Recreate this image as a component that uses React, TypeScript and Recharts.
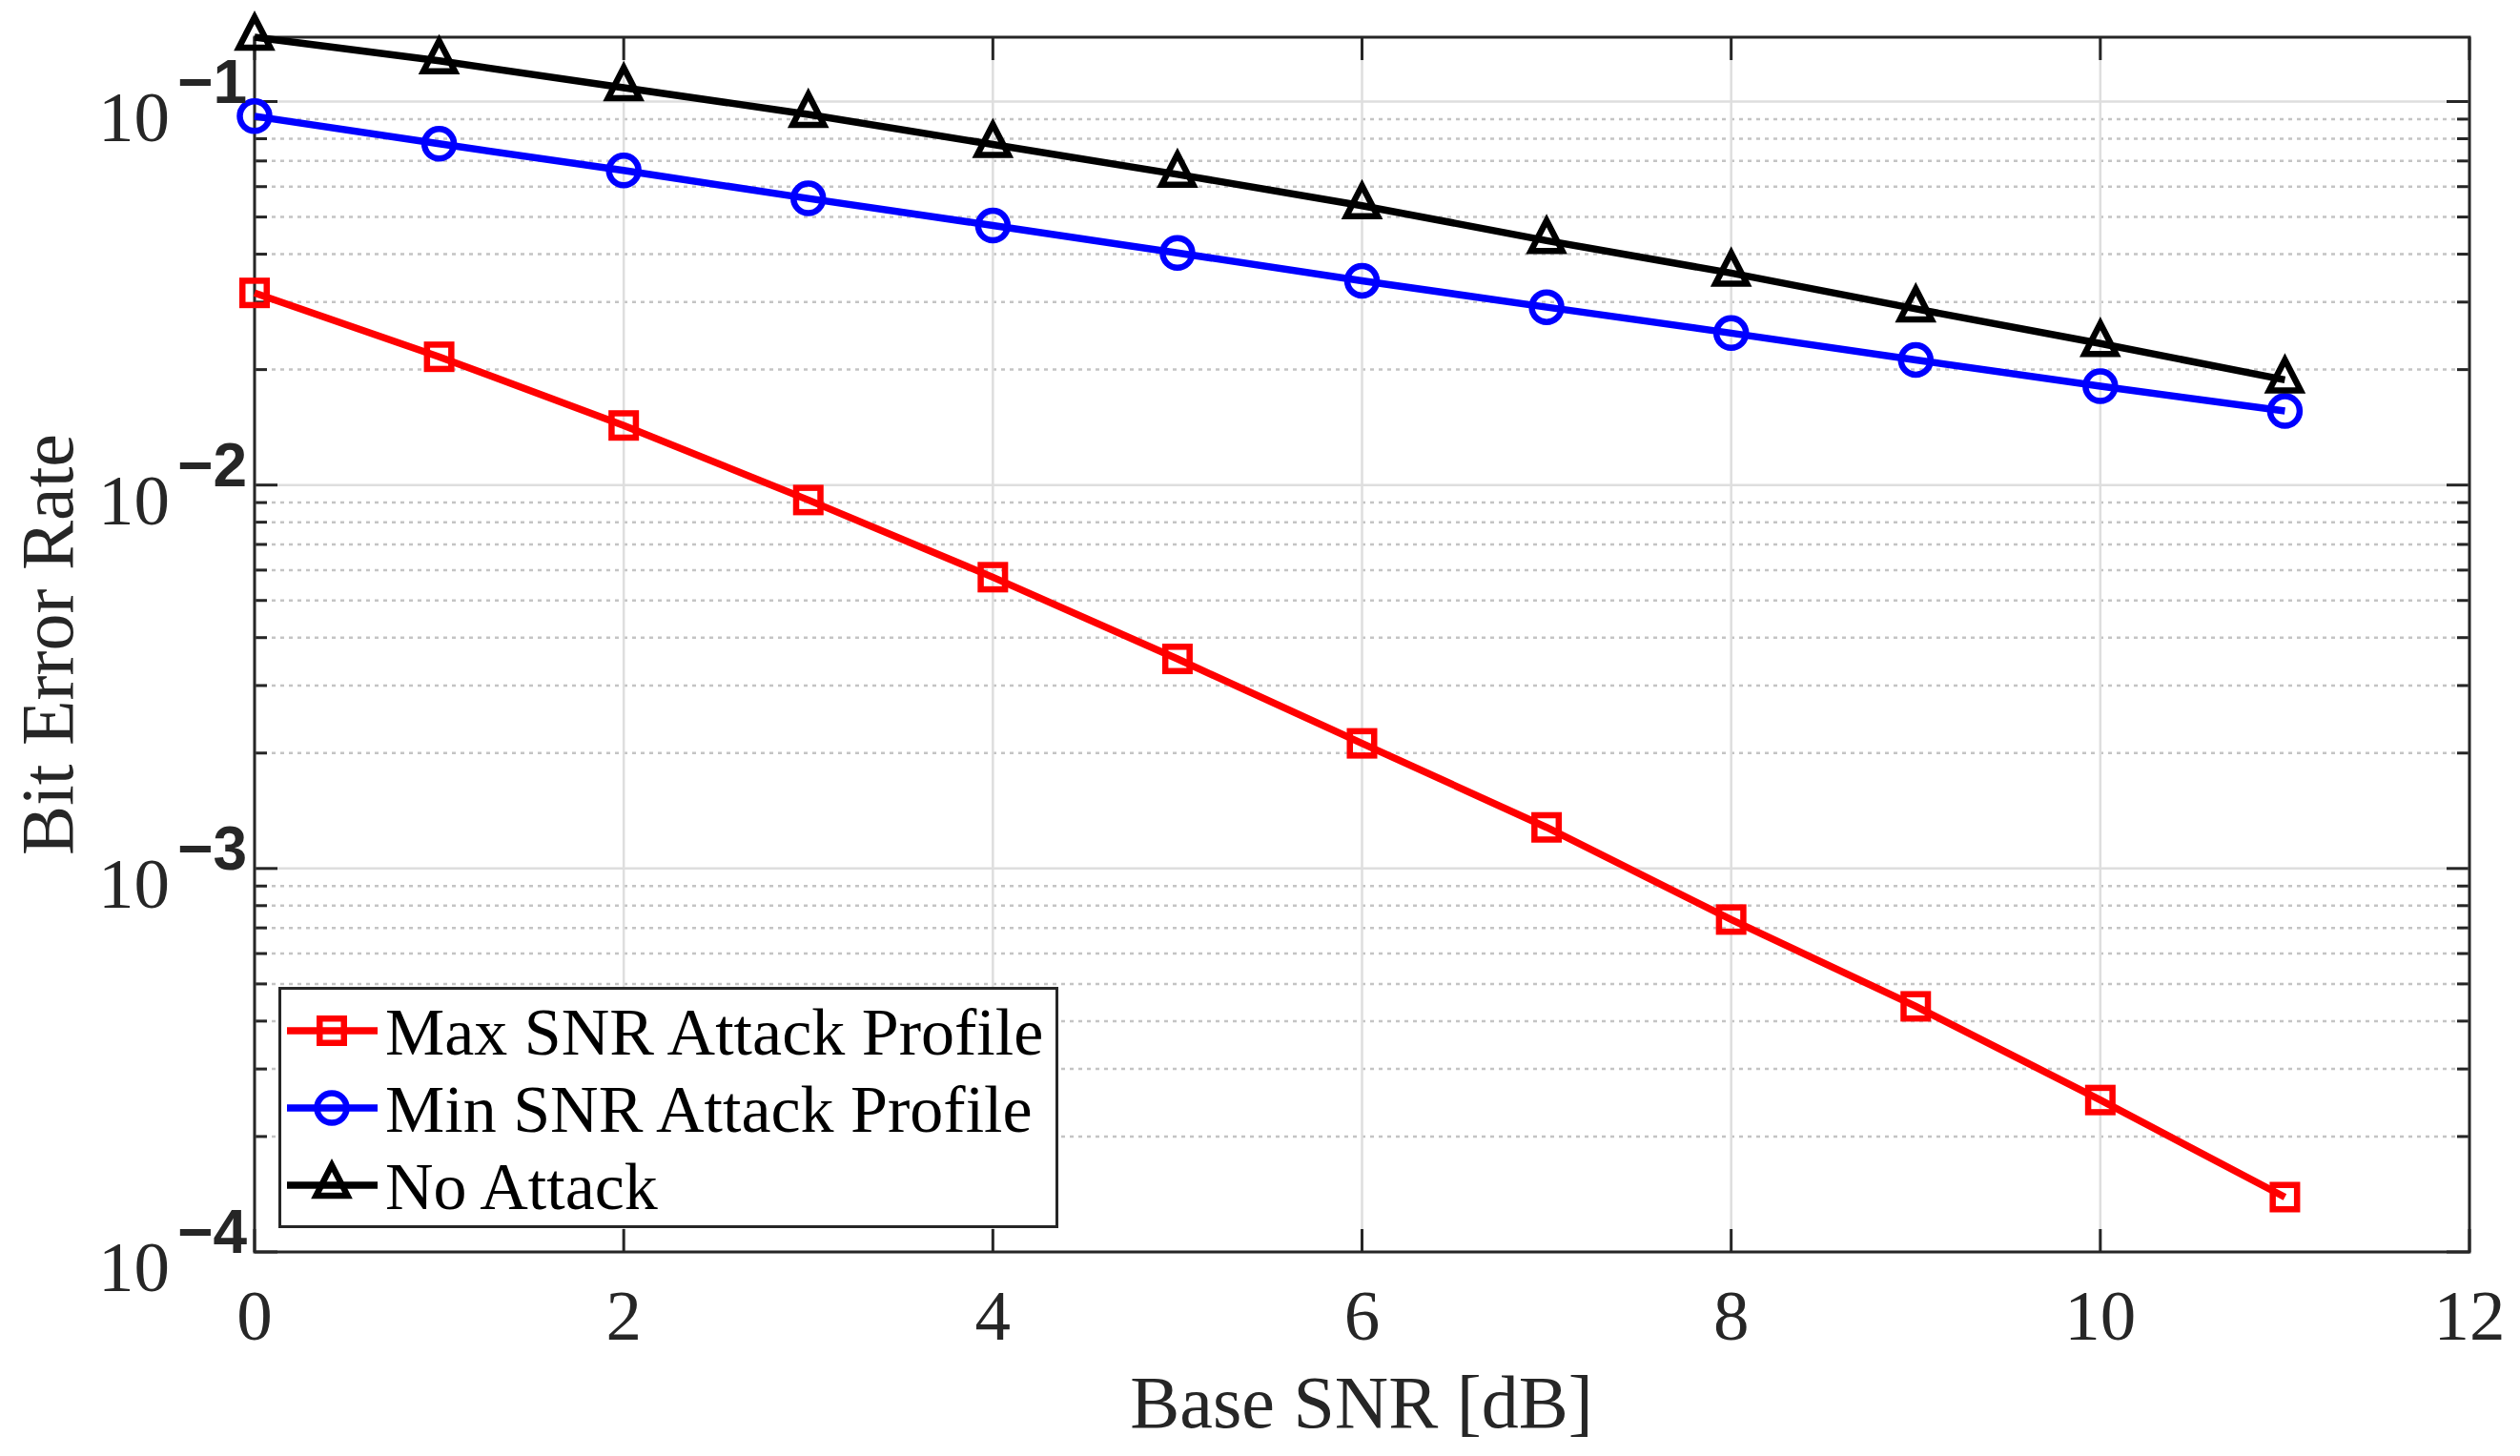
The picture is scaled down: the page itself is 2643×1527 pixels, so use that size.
import { LineChart, Line, XAxis, YAxis, ReferenceLine, ReferenceArea, Legend } from 'recharts'

// ---------------------------------------------------------------------------
// Data
// ---------------------------------------------------------------------------

const SNR_DB = [0, 1, 2, 3, 4, 5, 6, 7, 8, 9, 10, 11]

const MAX_SNR_ATTACK = [
  0.0317, 0.0216, 0.0143, 0.00914, 0.00575, 0.00352, 0.00212, 0.00128, 0.000736, 0.000437, 0.000249,
  0.000139,
]
const MIN_SNR_ATTACK = [
  0.0916, 0.0776, 0.0661, 0.0559, 0.0475, 0.0403, 0.0341, 0.0291, 0.0249, 0.0212, 0.0181, 0.0156,
]
const NO_ATTACK = [
  0.1472, 0.1277, 0.1087, 0.0926, 0.0773, 0.0646, 0.0535, 0.0434, 0.0357, 0.0288, 0.0234, 0.0188,
]

const X_TICKS = [0, 2, 4, 6, 8, 10, 12]
const Y_TICKS = [1e-4, 1e-3, 1e-2, 1e-1]
const Y_MINOR = [
  2e-4, 3e-4, 4e-4, 5e-4, 6e-4, 7e-4, 8e-4, 9e-4,
  2e-3, 3e-3, 4e-3, 5e-3, 6e-3, 7e-3, 8e-3, 9e-3,
  2e-2, 3e-2, 4e-2, 5e-2, 6e-2, 7e-2, 8e-2, 9e-2,
]
const Y_DOMAIN = [1e-4, 0.1472]

const SERIES = [
  { key: 'maxAttack', name: 'Max SNR Attack Profile', color: '#ff0000', marker: 'square' },
  { key: 'minAttack', name: 'Min SNR Attack Profile', color: '#0000ff', marker: 'circle' },
  { key: 'noAttack', name: 'No Attack', color: '#000000', marker: 'triangle' },
]

const data = SNR_DB.map((snr, i) => ({
  snr,
  maxAttack: MAX_SNR_ATTACK[i],
  minAttack: MIN_SNR_ATTACK[i],
  noAttack: NO_ATTACK[i],
}))

// ---------------------------------------------------------------------------
// Styling
// ---------------------------------------------------------------------------

const SERIF = "'Liberation Serif', 'Times New Roman', serif"
const SANS = "'Liberation Sans', Arial, sans-serif"
const AXIS_COLOR = '#262626'
const GRID_MAJOR = '#dedede'
const GRID_MINOR = '#c4c4c4'
const MAJOR_TICK = 24
const MINOR_TICK = 13
const LINE_WIDTH = 7.5
const MARKER_WIDTH = 6.5

// ---------------------------------------------------------------------------
// Markers
// ---------------------------------------------------------------------------

function Marker({ cx, cy, kind, color }: { cx: number; cy: number; kind: string; color: string }) {
  if (cx == null || cy == null) return null
  const common = { fill: 'none', stroke: color, strokeWidth: MARKER_WIDTH }
  if (kind === 'square') {
    return <rect x={cx - 12.75} y={cy - 12.75} width={25.5} height={25.5} {...common} />
  }
  if (kind === 'circle') {
    return <circle cx={cx} cy={cy} r={15.5} {...common} />
  }
  return (
    <polygon
      points={`${cx},${cy - 21} ${cx - 16.5},${cy + 11} ${cx + 16.5},${cy + 11}`}
      strokeLinejoin="miter"
      {...common}
    />
  )
}

// ---------------------------------------------------------------------------
// Grid lines + inside tick marks (drawn through the chart scales)
// ---------------------------------------------------------------------------

const hGrid = (minor: boolean) => (p: any) => {
  const { x1, x2, y1 } = p
  const len = minor ? MINOR_TICK : MAJOR_TICK
  return (
    <g>
      <line
        x1={x1}
        x2={x2}
        y1={y1}
        y2={y1}
        stroke={minor ? GRID_MINOR : GRID_MAJOR}
        strokeWidth={2.5}
        strokeDasharray={minor ? '4 5' : undefined}
      />
      <line x1={x1} x2={x1 + len} y1={y1} y2={y1} stroke={AXIS_COLOR} strokeWidth={3} />
      <line x1={x2 - len} x2={x2} y1={y1} y2={y1} stroke={AXIS_COLOR} strokeWidth={3} />
    </g>
  )
}

const vGrid = (p: any) => {
  const { x1, y1, y2 } = p
  const top = Math.min(y1, y2)
  const bottom = Math.max(y1, y2)
  return (
    <g>
      <line x1={x1} x2={x1} y1={top} y2={bottom} stroke={GRID_MAJOR} strokeWidth={2.5} />
      <line x1={x1} x2={x1} y1={top} y2={top + MAJOR_TICK} stroke={AXIS_COLOR} strokeWidth={3} />
      <line x1={x1} x2={x1} y1={bottom - MAJOR_TICK} y2={bottom} stroke={AXIS_COLOR} strokeWidth={3} />
    </g>
  )
}

// ---------------------------------------------------------------------------
// Ticks and labels
// ---------------------------------------------------------------------------

function YTick({ y, payload }: any) {
  const exp = Math.round(Math.log10(payload.value))
  return (
    <text x={259} y={y + 41} textAnchor="end" fill={AXIS_COLOR}>
      <tspan fontFamily={SERIF} fontSize={75}>
        10
      </tspan>
      <tspan fontFamily={SANS} fontWeight="bold" fontSize={64} dx={8} dy={-40}>
        {'\u2212' + Math.abs(exp)}
      </tspan>
    </text>
  )
}

function XTick({ x, payload }: any) {
  return (
    <text x={x} y={1405} textAnchor="middle" fill={AXIS_COLOR} fontFamily={SERIF} fontSize={75}>
      {payload.value}
    </text>
  )
}

function LegendBox() {
  const rows = [46, 127, 208]
  return (
    <svg width={818} height={253} style={{ display: 'block' }}>
      <rect x={1.5} y={1.5} width={815} height={250} fill="#ffffff" stroke={AXIS_COLOR} strokeWidth={3} />
      {SERIES.map((s, i) => (
        <g key={s.key}>
          <line x1={9} x2={104} y1={rows[i]} y2={rows[i]} stroke={s.color} strokeWidth={LINE_WIDTH} />
          <Marker cx={56} cy={rows[i]} kind={s.marker} color={s.color} />
          <text x={112} y={rows[i] + 25} fontFamily={SERIF} fontSize={70} fill="#000000">
            {s.name}
          </text>
        </g>
      ))}
    </svg>
  )
}

// ---------------------------------------------------------------------------
// Chart
// ---------------------------------------------------------------------------

export default function App() {
  return (
    <div style={{ position: 'absolute', left: 0, top: 0, background: '#ffffff' }}>
      <LineChart
        width={2643}
        height={1527}
        data={data}
        margin={{ top: 39, right: 53, bottom: 0, left: 0 }}
      >
        <XAxis
          dataKey="snr"
          type="number"
          domain={[0, 12]}
          ticks={X_TICKS}
          height={214}
          axisLine={false}
          tickLine={false}
          tick={<XTick />}
          label={{
            content: () => (
              <text x={1428} y={1497} textAnchor="middle" fontFamily={SERIF} fontSize={78} fill={AXIS_COLOR}>
                Base SNR [dB]
              </text>
            ),
          }}
        />
        <YAxis
          type="number"
          scale="log"
          domain={Y_DOMAIN}
          ticks={Y_TICKS}
          width={267}
          axisLine={false}
          tickLine={false}
          tick={<YTick />}
          label={{
            content: () => (
              <text
                x={76}
                y={676}
                transform="rotate(-90 76 676)"
                textAnchor="middle"
                fontFamily={SERIF}
                fontSize={78}
                fill={AXIS_COLOR}
              >
                Bit Error Rate
              </text>
            ),
          }}
        />

        {Y_MINOR.map((v) => (
          <ReferenceLine key={`ym${v}`} y={v} shape={hGrid(true)} zIndex={-50} />
        ))}
        {Y_TICKS.map((v) => (
          <ReferenceLine key={`yM${v}`} y={v} shape={hGrid(false)} zIndex={-40} />
        ))}
        {X_TICKS.map((v) => (
          <ReferenceLine key={`xM${v}`} x={v} shape={vGrid} zIndex={-40} />
        ))}
        <ReferenceArea
          x1={0}
          x2={12}
          y1={Y_DOMAIN[0]}
          y2={Y_DOMAIN[1]}
          fill="none"
          fillOpacity={0}
          stroke={AXIS_COLOR}
          strokeWidth={3}
          zIndex={-30}
        />

        {SERIES.map((s) => (
          <Line
            key={s.key}
            type="linear"
            dataKey={s.key}
            name={s.name}
            stroke={s.color}
            strokeWidth={LINE_WIDTH}
            isAnimationActive={false}
            activeDot={false}
            dot={(p: any) => <Marker key={`${s.key}-${p.index}`} cx={p.cx} cy={p.cy} kind={s.marker} color={s.color} />}
          />
        ))}

        <Legend
          layout="horizontal"
          verticalAlign="middle"
          align="center"
          content={() => <LegendBox />}
          wrapperStyle={{ position: 'absolute', left: 292, top: 1035, width: 818, height: 253 }}
        />
      </LineChart>
    </div>
  )
}
